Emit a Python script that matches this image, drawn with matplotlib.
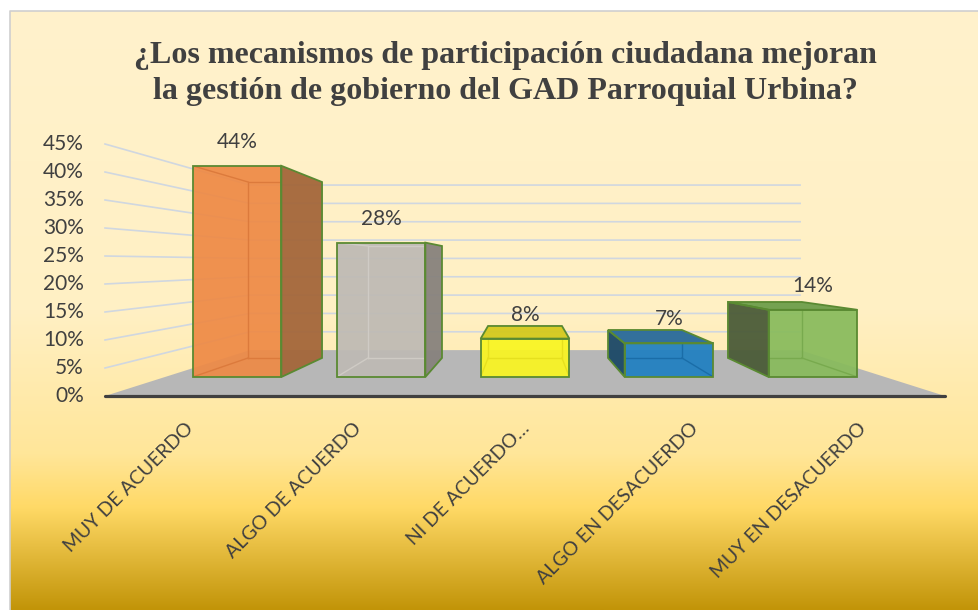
import matplotlib
matplotlib.use("Agg")
import matplotlib.pyplot as plt
import numpy as np
from matplotlib.colors import to_rgb
from matplotlib.patches import Polygon

# === DATA ===
title_lines = [
    "¿Los mecanismos de participación ciudadana mejoran",
    "la gestión de gobierno del GAD Parroquial Urbina?",
]
categories = [
    "MUY DE ACUERDO",
    "ALGO DE ACUERDO",
    "NI DE ACUERDO…",
    "ALGO EN DESACUERDO",
    "MUY EN DESACUERDO",
]
values = [44, 28, 8, 7, 14]
y_ticks = [0, 5, 10, 15, 20, 25, 30, 35, 40, 45]

# === STYLE ===
front_colors = ["#EE8A46", "#BEBAB4", "#F9F521", "#1F7FC1", "#88BB5C"]
side_colors = ["#A3663A", "#87827D", "#C9C21E", "#1B4867", "#4B5B38"]
top_colors = ["#C8703A", "#9E9A95", "#D4C91E", "#28699A", "#6E9E4B"]
inner_colors = ["#DC7A3C", "#CFCBC5", "#E6E01E", "#1A6DA8", "#78AA4E"]
EDGE = "#5A8A32"
TEXT = "#404040"
GRID = "#D0D7E0"
FLOOR = "#B7B7B7"
FONT = ["Lato", "DejaVu Sans"]

W, H = 979, 610
fig = plt.figure(figsize=(W / 100, H / 100), dpi=100)
fig.patch.set_facecolor("white")
ax = fig.add_axes([0, 0, 1, 1])
ax.set_xlim(0, W)
ax.set_ylim(H, 0)
ax.axis("off")

# background gradient (chart area)
BOX_L, BOX_T = 10, 11
stops = [(0.0, "#FFF2CC"), (0.5, "#FFF0C4"), (0.74, "#FFE699"),
         (0.83, "#FFD966"), (1.0, "#C29408")]
n = 400
t = np.linspace(0, 1, n)
grad = np.zeros((n, 1, 3))
for k in range(3):
    grad[:, 0, k] = np.interp(t, [s[0] for s in stops],
                              [to_rgb(s[1])[k] for s in stops])
ax.imshow(grad, extent=(BOX_L, W, H, BOX_T), aspect="auto", zorder=0)
ax.plot([BOX_L, BOX_L, W], [H, BOX_T, BOX_T], color="#CFCFCF", lw=1.2, zorder=1)

# === 3D PROJECTION ===
FX0, FX1, FY0 = 105, 945, 396
PX_PER_PCT = 5.6
VPX, VPY = 525, 263
S_WALL, S_BF, S_BB = 0.655, 0.857, 0.714
cat_w = (FX1 - FX0) / len(categories)
bar_w = 0.616 * cat_w


def proj(x, v, s):
    y = FY0 - v * PX_PER_PCT
    return VPX + s * (x - VPX), VPY + s * (y - VPY)


# gridlines on side wall + back wall
for v in y_ticks[1:]:
    pts = np.array([proj(FX0, v, 1), proj(FX0, v, S_WALL), proj(FX1, v, S_WALL)])
    ax.plot(pts[:, 0], pts[:, 1], color=GRID, lw=1.2, zorder=2)

# floor
floor = [proj(FX0, 0, 1), proj(FX1, 0, 1), proj(FX1, 0, S_WALL), proj(FX0, 0, S_WALL)]
ax.add_patch(Polygon(floor, closed=True, facecolor=FLOOR, edgecolor="none", zorder=2))
p0, p1 = proj(FX0, 0, 1), proj(FX1, 0, 1)
ax.plot([p0[0], p1[0]], [p0[1], p1[1]], color=TEXT, lw=2.3,
        solid_capstyle="round", zorder=8)

# bars
for i, v in enumerate(values):
    cx = FX0 + (i + 0.5) * cat_w
    xl, xr = cx - bar_w / 2, cx + bar_w / 2
    front = [proj(xl, 0, S_BF), proj(xr, 0, S_BF), proj(xr, v, S_BF), proj(xl, v, S_BF)]
    back = [proj(xl, 0, S_BB), proj(xr, 0, S_BB), proj(xr, v, S_BB), proj(xl, v, S_BB)]

    faces = []
    if xr < VPX:
        faces.append(([front[1], back[1], back[2], front[2]], side_colors[i]))
    elif xl > VPX:
        faces.append(([front[0], back[0], back[3], front[3]], side_colors[i]))
    if FY0 - v * PX_PER_PCT > VPY:
        faces.append(([front[3], front[2], back[2], back[3]], top_colors[i]))

    for poly, col in faces:
        ax.add_patch(Polygon(poly, closed=True, facecolor=col, edgecolor="none",
                             alpha=0.95, zorder=4))
    fpatch = Polygon(front, closed=True, facecolor=front_colors[i],
                     edgecolor="none", alpha=0.93, zorder=4)
    ax.add_patch(fpatch)

    # edges seen through the front face
    hidden = [back + [back[0]], [front[0], back[0]], [front[1], back[1]],
              [front[2], back[2]], [front[3], back[3]]]
    for seg in hidden:
        seg = np.array(seg)
        ln, = ax.plot(seg[:, 0], seg[:, 1], color=inner_colors[i], lw=1.0, zorder=5)
        ln.set_clip_path(fpatch)

    for poly, col in faces:
        ax.add_patch(Polygon(poly, closed=True, facecolor="none", edgecolor=EDGE,
                             lw=1.3, zorder=6))
    ax.add_patch(Polygon(front, closed=True, facecolor="none", edgecolor=EDGE,
                         lw=1.3, zorder=6))

    lx, ly = proj(cx, v, S_BF)
    ax.text(lx, ly - 24, f"{v}%", ha="center", va="center", fontsize=15,
            color=TEXT, family=FONT, zorder=9)

    ax.text(cx - 4, 420, categories[i], rotation=45, rotation_mode="anchor",
            ha="right", va="top", fontsize=14, color=TEXT, family=FONT, zorder=9)

# y tick labels
for v in y_ticks:
    ax.text(84, proj(FX0, v, 1)[1], f"{v}%", ha="right", va="center",
            fontsize=15, color=TEXT, family=FONT, zorder=9)

# title
for k, line in enumerate(title_lines):
    ax.text(505, 63 + 36 * k, line, ha="center", va="baseline", fontsize=23,
            fontweight="bold", family=["Liberation Serif", "DejaVu Serif"],
            color=TEXT, zorder=9)

fig.savefig("out.png", dpi=100)
